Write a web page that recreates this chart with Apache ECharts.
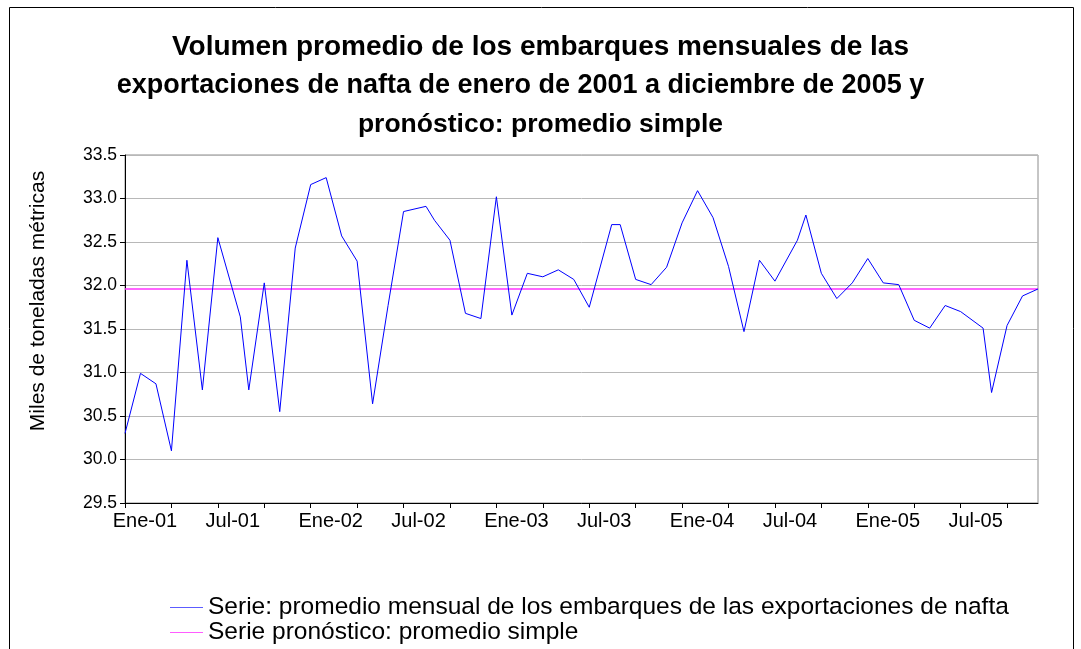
<!DOCTYPE html>
<html>
<head>
<meta charset="utf-8">
<script src="https://cdn.jsdelivr.net/npm/echarts@6/dist/echarts.min.js"></script>
<style>
html,body{margin:0;padding:0;background:#fff;}
#chart{width:1081px;height:649px;}
</style>
</head>
<body>
<div id="chart"></div>
<script>
// Fechas de cada observación (mensual, ene-2001 a dic-2005)
const dates = [
 '2001-01-01','2001-02-01','2001-03-01','2001-04-01','2001-05-01','2001-06-01','2001-07-01','2001-08-15','2001-09-01','2001-10-01','2001-11-01','2001-12-01',
 '2002-01-01','2002-02-01','2002-03-01','2002-04-01','2002-05-01','2002-06-01','2002-07-01','2002-08-15','2002-09-01','2002-10-01','2002-11-01','2002-12-01',
 '2003-01-01','2003-02-01','2003-03-01','2003-04-01','2003-05-01','2003-06-01','2003-07-01','2003-08-15','2003-09-01','2003-10-01','2003-11-01','2003-12-01',
 '2004-01-01','2004-02-01','2004-03-01','2004-04-01','2004-05-01','2004-06-01','2004-07-01','2004-08-15','2004-09-01','2004-10-01','2004-11-01','2004-12-01',
 '2005-01-01','2005-02-01','2005-03-01','2005-04-01','2005-05-01','2005-06-01','2005-07-01','2005-08-15','2005-09-01','2005-10-01','2005-11-01','2005-12-01'
];
// Serie: promedio mensual de los embarques (miles de toneladas métricas)
const valores = [
 30.30,30.99,30.87,30.10,32.29,30.80,32.55,31.64,30.80,32.03,30.55,32.43,
 33.16,33.24,32.57,32.28,30.64,31.77,32.85,32.91,32.75,32.52,31.68,31.62,
 33.02,31.66,32.14,32.10,32.18,32.07,31.75,32.70,32.70,32.07,32.01,32.21,
 32.72,33.09,32.78,32.22,31.47,32.29,32.05,32.52,32.81,32.14,31.85,32.03,
 32.31,32.03,32.01,31.60,31.51,31.77,31.70,31.51,30.77,31.54,31.88,31.96
];
// Serie pronóstico: promedio simple
const pronostico = [
 31.96,31.96,31.96,31.96,31.96,31.96,31.96,31.96,31.96,31.96,31.96,31.96,
 31.96,31.96,31.96,31.96,31.96,31.96,31.96,31.96,31.96,31.96,31.96,31.96,
 31.96,31.96,31.96,31.96,31.96,31.96,31.96,31.96,31.96,31.96,31.96,31.96,
 31.96,31.96,31.96,31.96,31.96,31.96,31.96,31.96,31.96,31.96,31.96,31.96,
 31.96,31.96,31.96,31.96,31.96,31.96,31.96,31.96,31.96,31.96,31.96,31.96
];
// Etiquetas del eje X (cada 6 meses)
const xTickLabels = ['Ene-01','Jul-01','Ene-02','Jul-02','Ene-03','Jul-03','Ene-04','Jul-04','Ene-05','Jul-05'];
const seriesNames = ['Serie: promedio mensual de los embarques de las exportaciones de nafta','Serie pronóstico: promedio simple'];
const titleLines = ['Volumen promedio de los embarques mensuales de las','exportaciones de nafta de enero de 2001 a diciembre de 2005 y','pronóstico: promedio simple'];
const yName = 'Miles de toneladas métricas';

function monthPos(s){
  const p = s.split('-').map(Number);
  const dim = new Date(p[0], p[1], 0).getDate();
  return (p[0]-2001)*12 + (p[1]-1) + (p[2]-1)/dim;
}

const font = 'Liberation Sans, Arial, sans-serif';
const titleStyle = {fontFamily:font,fontWeight:'bold',fontSize:27,lineHeight:38.5,color:'#000'};
const chart = echarts.init(document.getElementById('chart'), null, {renderer:'canvas'});
chart.setOption({
  animation:false,
  backgroundColor:'#fff',
  textStyle:{fontFamily:font},
  graphic:[{type:'rect',shape:{x:9.5,y:7.5,width:1064,height:700},style:{fill:null,stroke:'#000',lineWidth:1},silent:true,z:-1}],
  title:{
    text:'{a|'+titleLines[0]+'}\n{b|'+titleLines[1]+'}\n{c|'+titleLines[2]+'}',
    left:'center', top:28, padding:0,
    textStyle:Object.assign({rich:{
      a:Object.assign({},titleStyle,{fontSize:28}),
      b:Object.assign({},titleStyle,{padding:[0,40,0,0]}),
      c:Object.assign({},titleStyle,{fontSize:26.5})
    }},titleStyle)
  },
  grid:{left:125, top:155, width:913, height:348, show:true, borderColor:'#8c8c8c', borderWidth:1, containLabel:false},
  legend:{
    orient:'vertical', left:170, top:595, padding:0, itemGap:0, itemWidth:33, itemHeight:1,
    textStyle:{fontFamily:font,fontSize:24.5,lineHeight:21.5,color:'#000'},
    data:[
      {name:seriesNames[0],icon:'rect',itemStyle:{color:'#5c5cff'}},
      {name:seriesNames[1],icon:'rect',itemStyle:{color:'#ff5cff'}}
    ]
  },
  xAxis:{
    type:'value', min:0, max:59, interval:3,
    axisLine:{lineStyle:{color:'#000',width:1}},
    axisTick:{show:true,length:5,inside:false,lineStyle:{color:'#000'}},
    splitLine:{show:false},
    axisLabel:{
      showMinLabel:true, showMaxLabel:false, margin:8, color:'#000', fontFamily:font, fontSize:20,
      align:'center',
      formatter:function(v){
        if (v % 6 !== 0 || v/6 >= xTickLabels.length) return '';
        const t = xTickLabels[v/6];
        return (t.indexOf('Ene') === 0 ? '{e|' : '{j|') + t + '}';
      },
      rich:{
        e:{fontFamily:font,fontSize:20,color:'#000',padding:[0,0,0,40]},
        j:{fontFamily:font,fontSize:20,color:'#000',padding:[0,0,0,30]}
      }
    }
  },
  yAxis:{
    type:'value', min:29.5, max:33.5, interval:0.5,
    name:yName, nameLocation:'middle', nameRotate:90, nameGap:76,
    nameTextStyle:{fontFamily:font,fontSize:21,color:'#000',padding:[0,0,0,56]},
    axisLine:{show:true,lineStyle:{color:'#000',width:1}},
    axisTick:{show:true,length:5,lineStyle:{color:'#000'}},
    splitLine:{show:true,lineStyle:{color:'#b8b8b8',width:1}},
    axisLabel:{color:'#000',fontFamily:font,fontSize:17.5,margin:8,formatter:function(v){return v.toFixed(1);}}
  },
  series:[
    {name:seriesNames[0], type:'line', data:dates.map((d,i)=>[monthPos(d),valores[i]]),
     showSymbol:false, symbol:'none', lineStyle:{color:'#0000ff',width:1}, itemStyle:{color:'#0000ff'}, z:3},
    {name:seriesNames[1], type:'line', data:dates.map((d,i)=>[i,pronostico[i]]),
     showSymbol:false, symbol:'none', lineStyle:{color:'#ff33ff',width:1.5}, itemStyle:{color:'#ff33ff'}, z:2}
  ]
});
</script>
</body>
</html>
